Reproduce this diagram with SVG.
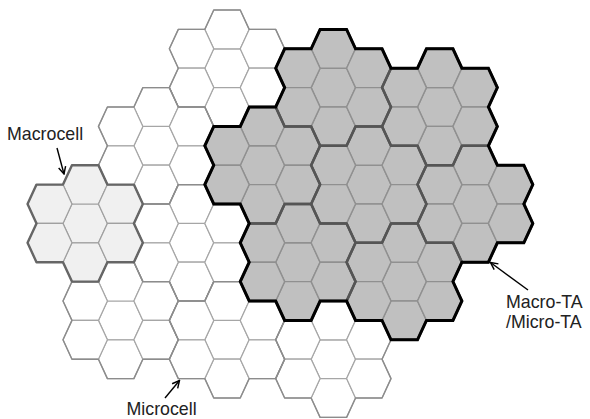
<svg xmlns="http://www.w3.org/2000/svg" xmlns:xlink="http://www.w3.org/1999/xlink" width="590" height="419" viewBox="0 0 590 419">
<style>
.bg{fill:#ffffff}
.w{fill:#ffffff;stroke:#a6a6a6;stroke-width:1.2}
.lg{fill:#f0f0f0;stroke:#a0a0a0;stroke-width:1.2}
.g{fill:#c0c0c0;stroke:#909090;stroke-width:1.4}
.wl{fill:none;stroke:#8c8c8c;stroke-width:1.4;stroke-linejoin:round}
.lgl{fill:none;stroke:#666666;stroke-width:2.4;stroke-linejoin:round}
.gl{fill:none;stroke:#555555;stroke-width:2.5;stroke-linejoin:round}
.ta{fill:none;stroke:#000000;stroke-width:3;stroke-linejoin:miter}
.lbl{font-family:"Liberation Sans",Arial,sans-serif;font-size:17.8px;fill:#222222}
.arr{fill:none;stroke:#000000;stroke-width:1.4;marker-end:url(#ah)}
</style>
<defs>
<polygon id="hex" points="-22.2,0 -13.25,-19.4 13.25,-19.4 22.2,0 13.25,19.4 -13.25,19.4"/>
<g id="cells7">
<use href="#hex" x="0" y="0"/>
<use href="#hex" x="0" y="-38.8"/>
<use href="#hex" x="0" y="38.8"/>
<use href="#hex" x="35.45" y="-19.4"/>
<use href="#hex" x="35.45" y="19.4"/>
<use href="#hex" x="-35.45" y="-19.4"/>
<use href="#hex" x="-35.45" y="19.4"/>
</g>
<path id="flower" d="M-13.25,-58.2 L13.25,-58.2 L22.2,-38.8 L48.7,-38.8 L57.65,-19.4 L48.7,0 L57.65,19.4 L48.7,38.8 L22.2,38.8 L13.25,58.2 L-13.25,58.2 L-22.2,38.8 L-48.7,38.8 L-57.65,19.4 L-48.7,0 L-57.65,-19.4 L-48.7,-38.8 L-22.2,-38.8 Z"/>
<marker id="ah" viewBox="0 0 10 10" refX="9" refY="5" markerWidth="9" markerHeight="9" markerUnits="userSpaceOnUse" orient="auto">
<path d="M1,1 L9,5 L1,9" fill="none" stroke="#000" stroke-width="1.6"/>
</marker>
</defs>
<rect class="bg" x="0" y="0" width="590" height="419"/>

<g id="microcells-white">
<g id="macro-w1" class="w" transform="translate(227,68.2)"><use href="#cells7"/></g>
<g id="macro-w2" class="w" transform="translate(156.1,145.8)"><use href="#cells7"/></g>
<g id="macro-w3" class="w" transform="translate(191.55,242.8)"><use href="#cells7"/></g>
<g id="macro-w4" class="w" transform="translate(120.65,320.4)"><use href="#cells7"/></g>
<g id="macro-w5" class="w" transform="translate(227,339.8)"><use href="#cells7"/></g>
<g id="macro-w6" class="w" transform="translate(333.35,359.2)"><use href="#cells7"/></g>
</g>
<g id="macrocell" class="lg" transform="translate(85.2,223.4)"><use href="#cells7"/></g>
<g id="macro-ta">
<g id="macro-g1" class="g" transform="translate(333.35,87.6)"><use href="#cells7"/></g>
<g id="macro-g2" class="g" transform="translate(439.7,107)"><use href="#cells7"/></g>
<g id="macro-g3" class="g" transform="translate(262.45,165.2)"><use href="#cells7"/></g>
<g id="macro-g4" class="g" transform="translate(368.8,184.6)"><use href="#cells7"/></g>
<g id="macro-g5" class="g" transform="translate(475.15,204)"><use href="#cells7"/></g>
<g id="macro-g6" class="g" transform="translate(297.9,262.2)"><use href="#cells7"/></g>
<g id="macro-g7" class="g" transform="translate(404.25,281.6)"><use href="#cells7"/></g>
</g>

<g id="macro-outlines">
<use href="#flower" class="wl" x="227" y="68.2"/>
<use href="#flower" class="wl" x="156.1" y="145.8"/>
<use href="#flower" class="wl" x="191.55" y="242.8"/>
<use href="#flower" class="wl" x="120.65" y="320.4"/>
<use href="#flower" class="wl" x="227" y="339.8"/>
<use href="#flower" class="wl" x="333.35" y="359.2"/>
<use href="#flower" class="lgl" x="85.2" y="223.4"/>
<use href="#flower" class="gl" x="333.35" y="87.6"/>
<use href="#flower" class="gl" x="439.7" y="107"/>
<use href="#flower" class="gl" x="262.45" y="165.2"/>
<use href="#flower" class="gl" x="368.8" y="184.6"/>
<use href="#flower" class="gl" x="475.15" y="204"/>
<use href="#flower" class="gl" x="297.9" y="262.2"/>
<use href="#flower" class="gl" x="404.25" y="281.6"/>
</g>

<path id="ta-boundary" class="ta" d="M320.1,29.4 L346.6,29.4 L355.55,48.8 L382.05,48.8 L391,68.2 L417.5,68.2 L426.45,48.8 L452.95,48.8 L461.9,68.2 L488.4,68.2 L497.35,87.6 L488.4,107 L497.35,126.4 L488.4,145.8 L497.35,165.2 L523.85,165.2 L532.8,184.6 L523.85,204 L532.8,223.4 L523.85,242.8 L497.35,242.8 L488.4,262.2 L461.9,262.2 L452.95,281.6 L461.9,301 L452.95,320.4 L426.45,320.4 L417.5,339.8 L391,339.8 L382.05,320.4 L355.55,320.4 L346.6,301 L320.1,301 L311.15,320.4 L284.65,320.4 L275.7,301 L249.2,301 L240.25,281.6 L249.2,262.2 L240.25,242.8 L249.2,223.4 L240.25,204 L213.75,204 L204.8,184.6 L213.75,165.2 L204.8,145.8 L213.75,126.4 L240.25,126.4 L249.2,107 L275.7,107 L284.65,87.6 L275.7,68.2 L284.65,48.8 L311.15,48.8 Z"/>

<g id="connectors">
<line class="arr" x1="57" y1="148" x2="64" y2="174"/>
<line class="arr" x1="165" y1="398" x2="179.5" y2="380.5"/>
<line class="arr" x1="528" y1="290" x2="490.5" y2="262.5"/>
</g>

<g id="labels">
<text class="lbl" x="7" y="139.5">Macrocell</text>
<text class="lbl" x="126.5" y="415">Microcell</text>
<text class="lbl" x="506" y="307.5">Macro-TA</text>
<text class="lbl" x="506" y="328">/Micro-TA</text>
</g>
</svg>
